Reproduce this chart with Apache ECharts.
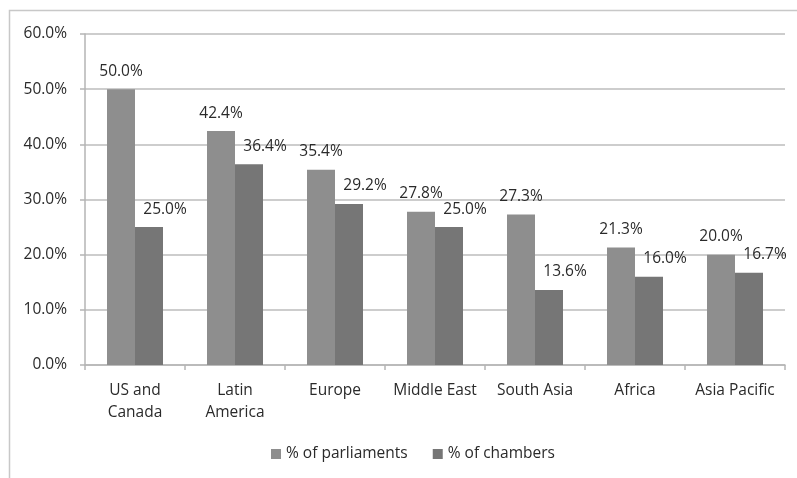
<!DOCTYPE html>
<html>
<head>
<meta charset="utf-8">
<script src="https://cdn.jsdelivr.net/npm/echarts@6/dist/echarts.min.js"></script>
<style>html,body{margin:0;padding:0;background:#fff}#c{width:797px;height:478px}</style>
</head>
<body>
<div id="c"></div>
<script>
const categories = ['US and\nCanada', 'Latin\nAmerica', 'Europe', 'Middle East', 'South Asia', 'Africa', 'Asia Pacific'];
const parliaments = [50.0, 42.4, 35.4, 27.8, 27.3, 21.3, 20.0];
const chambers = [25.0, 36.4, 29.2, 25.0, 13.6, 16.0, 16.7];
const seriesNames = ['% of parliaments', '% of chambers'];

const font = '"Open Sans", Lato, sans-serif';
const txt = '#2a2a2a';
const fs = 15.5;
const chart = echarts.init(document.getElementById('c'));
chart.setOption({
  animation: false,
  textStyle: { fontFamily: font },
  graphic: [{
    type: 'rect', shape: { x: 9.5, y: 10.5, width: 800, height: 480 },
    style: { fill: 'none', stroke: '#c8c8c8', lineWidth: 1.5 }, z: -1
  }],
  grid: { left: 85, right: 12, top: 34, bottom: 113 },
  legend: {
    bottom: 11, left: 266, itemWidth: 10, itemHeight: 10, itemGap: 25,
    icon: 'rect',
    textStyle: { fontSize: fs, color: txt, fontFamily: font },
    data: seriesNames
  },
  xAxis: {
    type: 'category', data: categories,
    axisLine: { lineStyle: { color: '#b5b5b5', width: 1.5 } },
    axisTick: { show: true, length: 5, lineStyle: { color: '#b5b5b5', width: 1.5 } },
    axisLabel: { interval: 0, hideOverlap: false, fontSize: fs, color: txt, margin: 15, lineHeight: 22, fontFamily: font }
  },
  yAxis: {
    type: 'value', min: 0, max: 60, interval: 10,
    axisLine: { show: true, lineStyle: { color: '#b5b5b5', width: 1.5 } },
    axisTick: { show: true, length: 5, lineStyle: { color: '#b5b5b5', width: 1.5 } },
    splitLine: { lineStyle: { color: '#bdbdbd', width: 1.5 } },
    axisLabel: { fontSize: fs, color: txt, margin: 18, fontFamily: font,
      formatter: v => v.toFixed(1) + '%' }
  },
  series: [
    {
      name: seriesNames[0], type: 'bar', data: parliaments,
      barGap: '0%', barCategoryGap: '44%',
      itemStyle: { color: '#8e8e8e' },
      label: { show: true, position: 'top', distance: 10, fontSize: fs, color: txt, fontFamily: font,
        formatter: p => p.value.toFixed(1) + '%' }
    },
    {
      name: seriesNames[1], type: 'bar', data: chambers,
      itemStyle: { color: '#767676' },
      label: { show: true, position: 'top', distance: 10, offset: [16, 0], fontSize: fs, color: txt, fontFamily: font,
        formatter: p => p.value.toFixed(1) + '%' }
    }
  ]
});
</script>
</body>
</html>
